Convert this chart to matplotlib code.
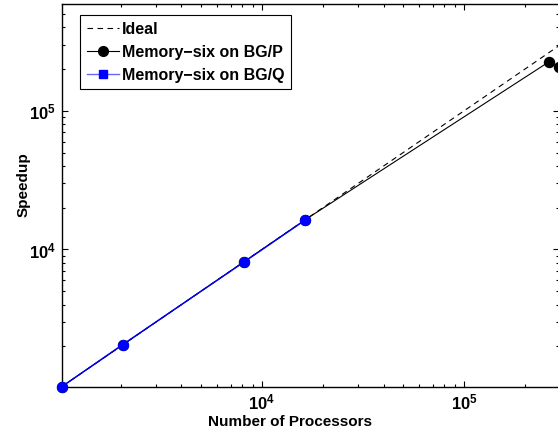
import matplotlib
matplotlib.use("Agg")
import matplotlib.pyplot as plt
from matplotlib.lines import Line2D
from matplotlib.ticker import LogLocator, NullFormatter

plt.rcParams['font.family'] = ['Liberation Sans', 'DejaVu Sans']
plt.rcParams['font.weight'] = 'bold'
plt.rcParams['mathtext.fontset'] = 'custom'
plt.rcParams['mathtext.rm'] = 'Liberation Sans:bold'
plt.rcParams['mathtext.bf'] = 'Liberation Sans:bold'
plt.rcParams['mathtext.it'] = 'Liberation Sans:bold'
plt.rcParams['mathtext.default'] = 'bf'

# Data
ideal_procs = [1024, 294912]
ideal_speedup = [1024, 294912]
bgp_procs = [1024, 2048, 8192, 16384, 262144, 294912]
bgp_speedup = [1024, 2048, 8192, 16384, 225000, 207000]
bgq_procs = [1024, 2048, 8192, 16384]
bgq_speedup = [1024, 2060, 8150, 16300]

labels = ["Ideal", "Memory\u2212six on BG/P", "Memory\u2212six on BG/Q"]

fig = plt.figure(figsize=(5.58, 4.33), dpi=100)
ax = fig.add_axes([0.1106, 0.1069, 0.8912, 0.8839])

dash = (0, (5, 4))
ax.plot(ideal_procs, ideal_speedup, color='k', ls=dash, lw=0.8, clip_on=False, zorder=2)
ax.plot(bgp_procs, bgp_speedup, 'k-', lw=0.8, marker='o', ms=7.2, clip_on=False, zorder=3)
ax.plot(bgq_procs, bgq_speedup, color='#0000ff', lw=1.0, marker='o', ms=7.0, clip_on=False, zorder=4)

ax.set_xscale('log')
ax.set_yscale('log')
ax.set_xlim(1024, 294912)
ax.set_ylim(1024, 589824)

ax.xaxis.set_major_locator(LogLocator(base=10, numticks=10))
ax.yaxis.set_major_locator(LogLocator(base=10, numticks=10))
ax.xaxis.set_minor_locator(LogLocator(base=10, subs=range(2, 10), numticks=20))
ax.yaxis.set_minor_locator(LogLocator(base=10, subs=range(2, 10), numticks=20))
ax.xaxis.set_minor_formatter(NullFormatter())
ax.yaxis.set_minor_formatter(NullFormatter())

ax.tick_params(which='both', direction='in', top=True, right=True, labelsize=12, width=0.8)
ax.tick_params(which='major', length=4.5, pad=4)
ax.tick_params(which='minor', length=2.5)
for s in ax.spines.values():
    s.set_linewidth(1.0)

ax.set_xlabel("Number of Processors", fontsize=11, fontweight='bold')
ax.set_ylabel("Speedup", fontsize=11, fontweight='bold')
ax.xaxis.set_label_coords(0.459, -0.075)
ax.yaxis.set_label_coords(-0.062, 0.527)

handles = [
    Line2D([], [], color='k', ls=dash, lw=0.8),
    Line2D([], [], color='k', lw=0.8, marker='o', ms=7),
    Line2D([], [], color='#6666ff', lw=1.0, marker='s', ms=6, mfc='#0000ff', mec='#0000ff'),
]
leg = ax.legend(handles, labels, loc='upper left', bbox_to_anchor=(0.0368, 0.971),
                prop={'size': 11.5, 'weight': 'bold'}, frameon=True, fancybox=False,
                framealpha=1, edgecolor='k', handlelength=2.0, handletextpad=0.2,
                labelspacing=0.5, borderpad=0.42, borderaxespad=0)
leg.get_frame().set_linewidth(0.8)

fig.savefig("out.png", dpi=100)
